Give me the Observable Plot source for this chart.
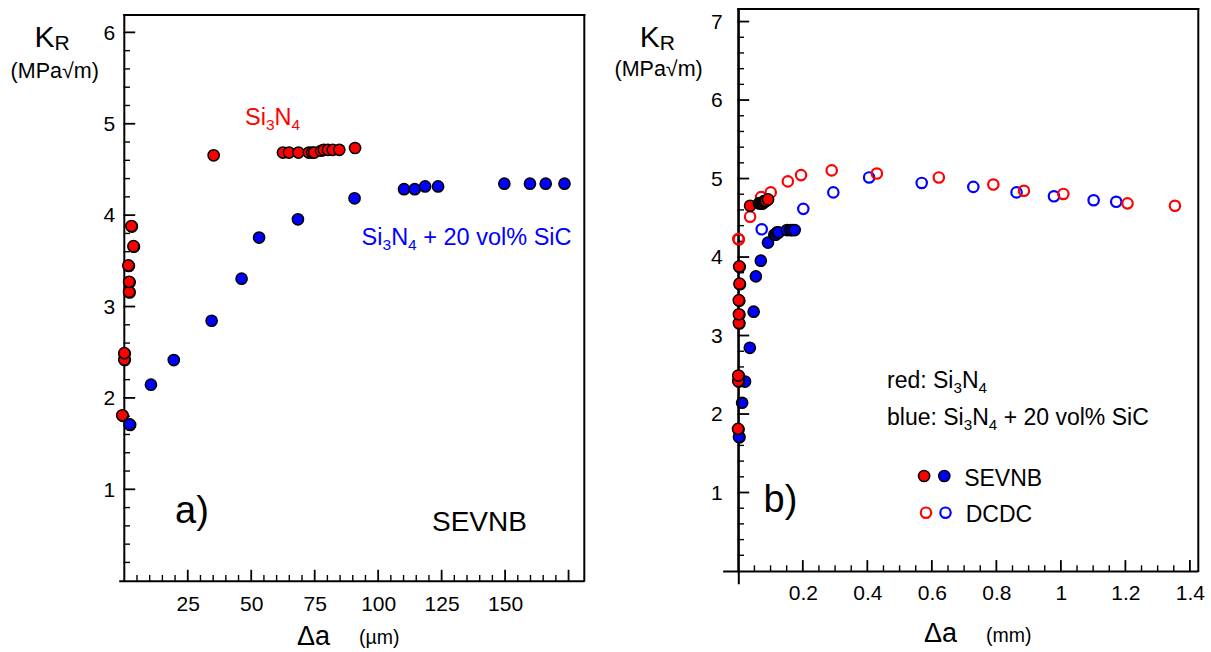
<!DOCTYPE html>
<html><head><meta charset="utf-8">
<script src="https://cdn.jsdelivr.net/npm/d3@7"></script>
<script src="https://cdn.jsdelivr.net/npm/@observablehq/plot@0.6"></script>
<style>
html,body{margin:0;padding:0;background:#fff;}
#wrap{width:1211px;height:652px;overflow:hidden;background:#fff;}
</style></head><body><div id="wrap"></div>
<script>
// ---------- data ----------
// SEVNB, Si3N4 (red, filled) : crack extension in µm, K_R in MPa√m
const sevnbSiN_dA = [-0.8, 0, 0, 1.9, 1.9, 1.6, 3.6, 2.8, 35.0, 62.3, 64.7, 68.4, 72.5, 73.8, 74.6, 77.3, 78.4, 80.0, 81.9, 84.5, 90.7];
const sevnbSiN_KR = [1.81, 2.42, 2.49, 3.16, 3.27, 3.45, 3.66, 3.88, 4.66, 4.69, 4.69, 4.69, 4.69, 4.69, 4.69, 4.71, 4.72, 4.72, 4.72, 4.72, 4.74];
// SEVNB, Si3N4 + 20 vol% SiC (blue, filled)
const sevnbSiC_dA = [2.1, 10.3, 19.3, 34.2, 46.0, 52.9, 68.2, 90.5, 110.0, 114.2, 118.3, 123.4, 149.5, 159.6, 165.8, 173.2];
const sevnbSiC_KR = [1.71, 2.15, 2.42, 2.85, 3.31, 3.76, 3.96, 4.19, 4.29, 4.29, 4.32, 4.32, 4.35, 4.35, 4.35, 4.35];
// DCDC, Si3N4 (red, open) : crack extension in mm
const dcdcSiN_dA = [0.0, 0.035, 0.069, 0.099, 0.152, 0.193, 0.288, 0.428, 0.620, 0.789, 0.884, 1.006, 1.205, 1.352];
const dcdcSiN_KR = [4.23, 4.52, 4.77, 4.83, 4.97, 5.05, 5.11, 5.07, 5.02, 4.93, 4.85, 4.81, 4.69, 4.66];
// DCDC, Si3N4 + 20 vol% SiC (blue, open)
const dcdcSiC_dA = [0.071, 0.200, 0.293, 0.404, 0.567, 0.727, 0.861, 0.977, 1.100, 1.170];
const dcdcSiC_KR = [4.36, 4.62, 4.83, 5.02, 4.95, 4.90, 4.83, 4.78, 4.73, 4.71];

// tick labels
const leftYTicks = [1, 2, 3, 4, 5, 6];
const leftXTicks = [25, 50, 75, 100, 125, 150, 175];
const leftXLabels = ["25", "50", "75", "100", "125", "150", ""];
const rightYTicks = [1, 2, 3, 4, 5, 6, 7];
const rightXTicks = [0.2, 0.4, 0.6, 0.8, 1, 1.2, 1.4];
const rightXLabels = ["0.2", "0.4", "0.6", "0.8", "1", "1.2", "1.4"];

// ---------- helpers ----------
const FONT = '"Liberation Sans", Arial, Helvetica, sans-serif';
const RED = "#ff0000", BLUE = "#0000ff";
const rows = (xs, ys, f = v => v) => xs.map((x, i) => ({x: f(x), y: ys[i]}));
const rng = (a, b, s) => d3.range(Math.round((b - a) / s) + 1).map(i => +(a + i * s).toFixed(4));

function rich(svg, x, y, size, fill, segs, anchor = "start") {
  const t = d3.select(svg).append("text")
    .attr("x", x).attr("y", y).attr("font-size", size).attr("fill", fill)
    .attr("font-family", FONT).attr("text-anchor", anchor);
  let shift = 0;
  for (const s of segs) {
    if (typeof s === "string") {
      t.append("tspan").attr("dy", -shift).text(s); shift = 0;
    } else {
      const off = s.off ?? size * 0.2;
      t.append("tspan").attr("font-size", s.size ?? size * 0.66).attr("dy", off - shift).text(s.sub);
      shift = off;
    }
  }
}

// frame (top / right / left) and inward ticks, positioned through the plot's own scales
function frameAndTicks(plot, {xMax, yMax, yMajor, yMinor, xMajor, xMinor}) {
  const sx = plot.scale("x"), sy = plot.scale("y");
  const X = v => sx.apply(v), Y = v => sy.apply(v);
  const g = d3.select(plot).append("g").attr("stroke", "black").attr("fill", "none").attr("stroke-linecap", "square");
  const line = (x1, y1, x2, y2, w) => g.append("path").attr("d", `M${x1},${y1}L${x2},${y2}`).attr("stroke-width", w);
  const x0 = X(0), x1 = X(xMax), y0 = Y(0), y1 = Y(yMax);
  line(x0, y1, x1, y1, 2);          // top
  line(x1, y1, x1, y0, 2);          // right
  line(x0, y1, x0, y0, 2);          // left (y axis)
  for (const v of yMinor) line(x0, Y(v), x0 + 5, Y(v), 1.4);
  for (const v of yMajor) line(x0, Y(v), x0 + 10, Y(v), 1.8);
  for (const v of xMinor) line(X(v), y0, X(v), y0 - 5, 1.4);
  for (const v of xMajor) line(X(v), y0, X(v), y0 - 10, 1.8);
}
// redraw the dots on top so they cover the axis line as in the reference
function dotsOnTop(plot, data, r, fill, stroke, sw) {
  const sx = plot.scale("x"), sy = plot.scale("y");
  const g = d3.select(plot).append("g");
  for (const d of data) {
    g.append("circle").attr("cx", sx.apply(d.x)).attr("cy", sy.apply(d.y)).attr("r", r)
      .attr("fill", fill).attr("stroke", stroke).attr("stroke-width", sw);
  }
}

const style = {fontFamily: FONT, color: "black", background: "white"};
const H = 652;

const outer = d3.select("#wrap").append("svg")
  .attr("width", 1211).attr("height", H).attr("viewBox", `0 0 1211 ${H}`)
  .style("display", "block").style("background", "white");
function mount(plot, x) {
  plot.removeAttribute("style");
  plot.removeAttribute("class");
  const st = plot.querySelector("style"); if (st) st.remove();
  plot.setAttribute("font-family", FONT);
  plot.setAttribute("x", x);
  plot.setAttribute("y", 0);
  plot.setAttribute("overflow", "visible");
  outer.node().appendChild(plot);
}

// ---------- panel a ----------
const W1 = 600;
const xMax1 = 181.2, yMax1 = 6.19;
const aSiN = rows(sevnbSiN_dA, sevnbSiN_KR), aSiC = rows(sevnbSiC_dA, sevnbSiC_KR);
const left = Plot.plot({
  width: W1, height: H,
  marginLeft: 124.3, marginRight: 15.7, marginTop: 15, marginBottom: 71.3,
  x: {domain: [0, xMax1]},
  y: {domain: [0, yMax1]},
  style,
  marks: [
    Plot.ruleY([0], {x1: -2, x2: xMax1, stroke: "black", strokeWidth: 2}),
    Plot.axisY(leftYTicks, {tickSize: 0, tickPadding: 9.5, label: null, fontSize: 21, tickFormat: d => String(d)}),
    Plot.axisX(leftXTicks, {tickSize: 0, tickPadding: 14.4, label: null, fontSize: 21,
      tickFormat: d => leftXLabels[leftXTicks.indexOf(d)]}),
    Plot.dot(aSiC, {x: "x", y: "y", r: 5.6, fill: BLUE, stroke: "black", strokeWidth: 1.5}),
    Plot.dot(aSiN, {x: "x", y: "y", r: 5.6, fill: RED, stroke: "black", strokeWidth: 1.5})
  ]
});
mount(left, 0);
frameAndTicks(left, {xMax: xMax1, yMax: yMax1,
  yMajor: leftYTicks, yMinor: rng(0.2, 6, 0.2).filter(v => !leftYTicks.includes(v)),
  xMajor: leftXTicks, xMinor: rng(5, 175, 5).filter(v => !leftXTicks.includes(v))});
dotsOnTop(left, aSiN.filter(d => d.x < 5), 5.6, RED, "black", 1.5);
dotsOnTop(left, aSiC.filter(d => d.x < 5), 5.6, BLUE, "black", 1.5);

rich(left, 34.4, 46.7, 30, "black", ["K", {sub: "R", size: 21, off: 3.5}]);
rich(left, 10.6, 78, 21.5, "black", ["(MPa√m)"]);
rich(left, 245, 125, 23.5, RED, ["Si", {sub: "3"}, "N", {sub: "4"}]);
rich(left, 361.6, 245, 23.5, BLUE, ["Si", {sub: "3"}, "N", {sub: "4"}, " + 20 vol% SiC"]);
rich(left, 175, 523, 38, "black", ["a)"]);
rich(left, 432, 530.7, 28, "black", ["SEVNB"]);
rich(left, 297, 645, 27, "black", ["Δa"]);
rich(left, 359, 644, 19.5, "black", ["(µm)"]);

// ---------- panel b ----------
const X2 = 600, W2 = 611;
const xMax2 = 1.426, yMax2 = 7.16;
const bSiN = rows(sevnbSiN_dA, sevnbSiN_KR, v => v / 1000), bSiC = rows(sevnbSiC_dA, sevnbSiC_KR, v => v / 1000);
const bDSiN = rows(dcdcSiN_dA, dcdcSiN_KR), bDSiC = rows(dcdcSiC_dA, dcdcSiC_KR);
const right = Plot.plot({
  width: W2, height: H,
  marginLeft: 138.3, marginRight: 12.7, marginTop: 9, marginBottom: 81,
  x: {domain: [0, xMax2]},
  y: {domain: [0, yMax2]},
  style,
  marks: [
    Plot.ruleY([0], {x1: -0.047, x2: xMax2, stroke: "black", strokeWidth: 2}),
    Plot.ruleX([0], {y1: -0.17, y2: yMax2, stroke: "black", strokeWidth: 2}),
    Plot.axisY(rightYTicks, {tickSize: 0, tickPadding: 16, label: null, fontSize: 21, tickFormat: d => String(d)}),
    Plot.axisX(rightXTicks, {tickSize: 0, tickPadding: 14, label: null, fontSize: 21,
      tickFormat: d => rightXLabels[rightXTicks.indexOf(d)]}),
    Plot.dot(bDSiC, {x: "x", y: "y", r: 5.2, fill: "none", stroke: BLUE, strokeWidth: 2.2}),
    Plot.dot(bDSiN, {x: "x", y: "y", r: 5.2, fill: "none", stroke: RED, strokeWidth: 2.2}),
    Plot.dot(bSiC, {x: "x", y: "y", r: 5.6, fill: BLUE, stroke: "black", strokeWidth: 1.5}),
    Plot.dot(bSiN, {x: "x", y: "y", r: 5.6, fill: RED, stroke: "black", strokeWidth: 1.5})
  ]
});
mount(right, X2);
frameAndTicks(right, {xMax: xMax2, yMax: yMax2,
  yMajor: rightYTicks, yMinor: rng(0.2, 7, 0.2).filter(v => !rightYTicks.includes(v)),
  xMajor: rightXTicks, xMinor: rng(0.05, 1.4, 0.05).filter(v => !rightXTicks.includes(v))});
dotsOnTop(right, bDSiN.filter(d => d.x < 0.01), 5.2, "none", RED, 2.2);
dotsOnTop(right, bSiC.filter(d => d.x < 0.005), 5.6, BLUE, "black", 1.5);
dotsOnTop(right, bSiN.filter(d => d.x < 0.005), 5.6, RED, "black", 1.5);

const R = (x) => x - X2;
rich(right, R(639.8), 46.7, 30, "black", ["K", {sub: "R", size: 21, off: 3.5}]);
rich(right, R(614.5), 76, 21.5, "black", ["(MPa√m)"]);
rich(right, R(887), 388, 23, "black", ["red: Si", {sub: "3"}, "N", {sub: "4"}]);
rich(right, R(887), 425, 23, "black", ["blue: Si", {sub: "3"}, "N", {sub: "4"}, " + 20 vol% SiC"]);
rich(right, R(763.6), 511.7, 38, "black", ["b)"]);
rich(right, R(964.2), 485.7, 23, "black", ["SEVNB"]);
rich(right, R(965.7), 521.7, 23, "black", ["DCDC"]);
rich(right, R(924), 642, 27, "black", ["Δa"]);
rich(right, R(986), 642, 19.5, "black", ["(mm)"]);

// legend symbols
const lg = d3.select(right).append("g");
lg.append("circle").attr("cx", R(924.1)).attr("cy", 476).attr("r", 5.6).attr("fill", RED).attr("stroke", "black").attr("stroke-width", 1.5);
lg.append("circle").attr("cx", R(944.3)).attr("cy", 476).attr("r", 5.6).attr("fill", BLUE).attr("stroke", "black").attr("stroke-width", 1.5);
lg.append("circle").attr("cx", R(926)).attr("cy", 512.7).attr("r", 5.2).attr("fill", "none").attr("stroke", RED).attr("stroke-width", 2.2);
lg.append("circle").attr("cx", R(945.5)).attr("cy", 512.7).attr("r", 5.2).attr("fill", "none").attr("stroke", BLUE).attr("stroke-width", 2.2);
</script>
</body></html>
